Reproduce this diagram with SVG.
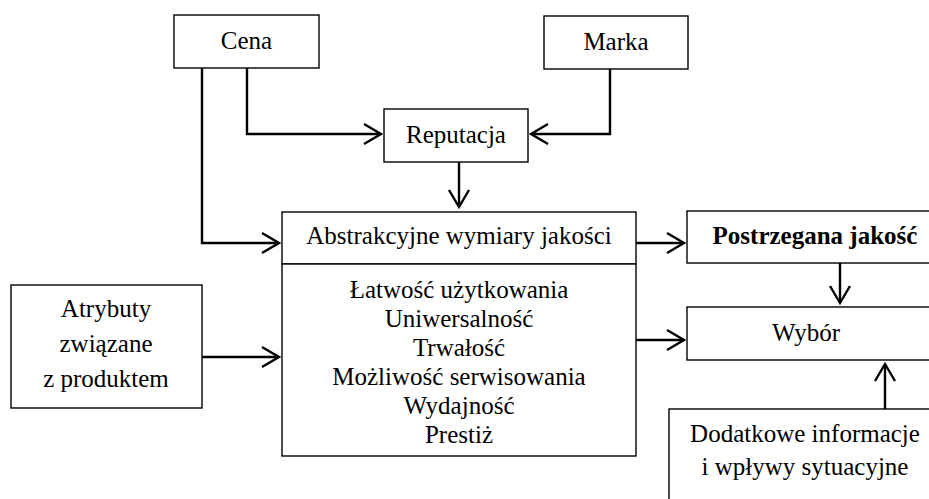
<svg xmlns="http://www.w3.org/2000/svg" width="929" height="499" viewBox="0 0 929 499">
<defs>
<marker id="ah" markerUnits="userSpaceOnUse" markerWidth="24" markerHeight="26" refX="19" refY="12" orient="auto">
<path d="M2,2 L19,12 L2,22" fill="none" stroke="#000" stroke-width="2.4"/>
</marker>
<style>
.box{fill:#fff;stroke:#000;stroke-width:1.4}
.t{font-family:'Liberation Serif','Times New Roman',serif;font-size:25px;fill:#000;text-anchor:middle}
.b{font-weight:bold}
.c{fill:none;stroke:#000;stroke-width:2.4;marker-end:url(#ah)}
</style>
</defs>
<rect width="929" height="499" fill="#fff"/>
<g id="connectors">
<path class="c" d="M202,68 V243 H279"/>
<path class="c" d="M247,68 V134 H381"/>
<path class="c" d="M610,69 V134 H531"/>
<path class="c" d="M459,162 V207"/>
<path class="c" d="M636,243 H684"/>
<path class="c" d="M840,263 V303"/>
<path class="c" d="M636,340 H684"/>
<path class="c" d="M202,357 H279"/>
<path class="c" d="M885,409 V364"/>
</g>
<g id="cena">
<rect class="box" x="174" y="15" width="145" height="53"/>
<text class="t" x="246.5" y="49">Cena</text>
</g>
<g id="marka">
<rect class="box" x="544" y="16" width="144" height="53"/>
<text class="t" x="616" y="50">Marka</text>
</g>
<g id="reputacja">
<rect class="box" x="384" y="109" width="144" height="53"/>
<text class="t" x="456" y="143">Reputacja</text>
</g>
<g id="abstrakcyjne">
<rect class="box" x="282" y="212" width="354" height="52"/>
<text class="t" x="459" y="244">Abstrakcyjne wymiary jakości</text>
</g>
<g id="wymiary">
<rect class="box" x="282" y="264" width="354" height="192"/>
<text class="t" x="459" y="298">Łatwość użytkowania</text>
<text class="t" x="459" y="327">Uniwersalność</text>
<text class="t" x="459" y="356">Trwałość</text>
<text class="t" x="459" y="385">Możliwość serwisowania</text>
<text class="t" x="459" y="414">Wydajność</text>
<text class="t" x="459" y="443">Prestiż</text>
</g>
<g id="postrzegana">
<rect class="box" x="687" y="211" width="260" height="52"/>
<text class="t b" x="815" y="244">Postrzegana jakość</text>
</g>
<g id="wybor">
<rect class="box" x="687" y="307" width="260" height="53"/>
<text class="t" x="806" y="341">Wybór</text>
</g>
<g id="atrybuty">
<rect class="box" x="11" y="285" width="191" height="123"/>
<text class="t" x="106" y="317">Atrybuty</text>
<text class="t" x="106" y="352">związane</text>
<text class="t" x="106" y="387">z produktem</text>
</g>
<g id="dodatkowe">
<rect class="box" x="669" y="409" width="280" height="110"/>
<text class="t" x="805" y="442">Dodatkowe informacje</text>
<text class="t" x="805" y="475">i wpływy sytuacyjne</text>
</g>
</svg>
